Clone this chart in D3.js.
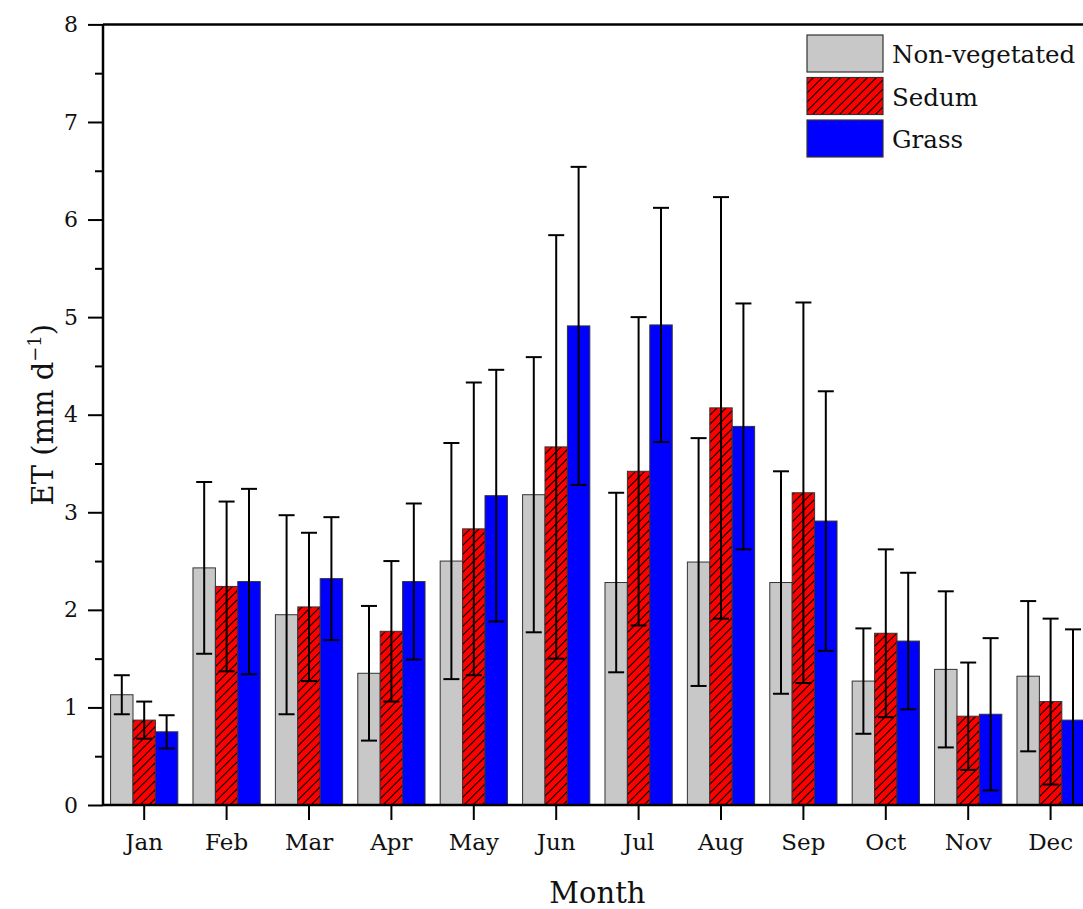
<!DOCTYPE html>
<html>
<head>
<meta charset="utf-8">
<script src="https://cdn.jsdelivr.net/npm/d3@7"></script>
<style>
  html, body { margin: 0; padding: 0; background: #fff; }
  svg { display: block; }
  text { font-family: "DejaVu Serif", "Liberation Serif", serif; fill: #111; }
</style>
</head>
<body>
<svg id="chart" width="1083" height="909"></svg>
<script>
// Monthly evapotranspiration (mean and standard deviation, mm per day)
const months = ["Jan", "Feb", "Mar", "Apr", "May", "Jun", "Jul", "Aug", "Sep", "Oct", "Nov", "Dec"];
const seriesNames = ["Non-vegetated", "Sedum", "Grass"];

const nonVegetated   = [1.13, 2.43, 1.95, 1.35, 2.50, 3.18, 2.28, 2.49, 2.28, 1.27, 1.39, 1.32];
const nonVegetatedSD = [0.20, 0.88, 1.02, 0.69, 1.21, 1.41, 0.92, 1.27, 1.14, 0.54, 0.80, 0.77];
const sedum          = [0.87, 2.24, 2.03, 1.78, 2.83, 3.67, 3.42, 4.07, 3.20, 1.76, 0.91, 1.06];
const sedumSD        = [0.19, 0.87, 0.76, 0.72, 1.50, 2.17, 1.58, 2.16, 1.95, 0.86, 0.55, 0.85];
const grass          = [0.75, 2.29, 2.32, 2.29, 3.17, 4.91, 4.92, 3.88, 2.91, 1.68, 0.93, 0.87];
const grassSD        = [0.17, 0.95, 0.63, 0.80, 1.29, 1.63, 1.20, 1.26, 1.33, 0.70, 0.78, 0.93];

const yTicks = [0, 1, 2, 3, 4, 5, 6, 7, 8];
const yMinorTicks = [0.5, 1.5, 2.5, 3.5, 4.5, 5.5, 6.5, 7.5];

const means = [nonVegetated, sedum, grass];
const sds = [nonVegetatedSD, sedumSD, grassSD];

const rows = months.flatMap((m, i) =>
  seriesNames.map((s, k) => ({ month: m, series: s, value: means[k][i], sd: sds[k][i] }))
);

// Layout
const plotLeft = 103, plotTop = 24.4, plotBottom = 805, step = 82.4;
const plotRight = plotLeft + months.length * step;

const svg = d3.select("#chart");

const y = d3.scaleLinear().domain([0, 8]).range([plotBottom, plotTop]);
const x = d3.scaleBand().domain(months).range([plotLeft, plotRight]).padding(0);
const groupHalf = step * 0.408;
const xs = d3.scaleBand().domain(seriesNames).range([-groupHalf, groupHalf]).padding(0);

const fills = { "Non-vegetated": "#c8c8c8", "Sedum": "url(#hatch)", "Grass": "#0000ff" };

// Hatch pattern for the Sedum bars: red with black diagonal lines
const hs = 9;
const defs = svg.append("defs");
const pat = defs.append("pattern")
  .attr("id", "hatch")
  .attr("patternUnits", "userSpaceOnUse")
  .attr("width", hs).attr("height", hs);
pat.append("rect").attr("width", hs).attr("height", hs).attr("fill", "#ff0000");
pat.append("path")
  .attr("d", `M-2,2 L2,-2 M0,${hs} L${hs},0 M${hs - 2},${hs + 2} L${hs + 2},${hs - 2}`)
  .attr("stroke", "#000").attr("stroke-width", 1.2);

const cx = d => x(d.month) + x.bandwidth() / 2 + xs(d.series);

// Bars
svg.append("g").selectAll("rect")
  .data(rows).join("rect")
  .attr("x", d => cx(d))
  .attr("y", d => y(d.value))
  .attr("width", xs.bandwidth())
  .attr("height", d => y(0) - y(d.value))
  .attr("fill", d => fills[d.series])
  .attr("stroke", "#333").attr("stroke-width", 1);

// Error bars
const capHalf = 8;
const eg = svg.append("g").attr("stroke", "#000").attr("stroke-width", 2);
rows.forEach(d => {
  const mx = cx(d) + xs.bandwidth() / 2;
  const hi = d.value + d.sd;
  const lo = Math.max(0, d.value - d.sd);
  eg.append("line").attr("x1", mx).attr("x2", mx).attr("y1", y(hi)).attr("y2", y(lo));
  eg.append("line").attr("x1", mx - capHalf).attr("x2", mx + capHalf).attr("y1", y(hi)).attr("y2", y(hi));
  if (d.value - d.sd > 0) {
    eg.append("line").attr("x1", mx - capHalf).attr("x2", mx + capHalf).attr("y1", y(lo)).attr("y2", y(lo));
  }
});

// Y axis with major and minor ticks
const yAxis = svg.append("g").attr("transform", `translate(${plotLeft},0)`)
  .call(d3.axisLeft(y).tickValues(yTicks).tickSize(15).tickPadding(10).tickFormat(d3.format("d")));
yAxis.select(".domain").remove();
yAxis.selectAll(".tick line").attr("stroke", "#000").attr("stroke-width", 2);
yAxis.selectAll(".tick text").style("font-size", "22px").attr("fill", "#111");
svg.append("g").attr("transform", `translate(${plotLeft},0)`)
  .call(d3.axisLeft(y).tickValues(yMinorTicks).tickSize(8).tickFormat(""))
  .call(g => g.select(".domain").remove())
  .selectAll(".tick line").attr("stroke", "#000").attr("stroke-width", 2);

// X axis
const xAxis = svg.append("g").attr("transform", `translate(0,${plotBottom})`)
  .call(d3.axisBottom(x).tickSize(15).tickPadding(14));
xAxis.select(".domain").remove();
xAxis.selectAll(".tick line").attr("stroke", "#000").attr("stroke-width", 2);
xAxis.selectAll(".tick text").style("font-size", "23px").attr("fill", "#111");

// Frame lines: left, bottom, top
const frame = svg.append("g").attr("stroke", "#000").attr("stroke-width", 2.5).attr("fill", "none");
frame.append("line").attr("x1", plotLeft).attr("x2", plotLeft).attr("y1", plotTop).attr("y2", plotBottom);
frame.append("line").attr("x1", plotLeft).attr("x2", plotRight).attr("y1", plotBottom).attr("y2", plotBottom);
frame.append("line").attr("x1", plotLeft).attr("x2", plotRight).attr("y1", plotTop).attr("y2", plotTop);

// Axis titles
svg.append("text")
  .attr("x", (plotLeft + plotRight) / 2).attr("y", 903)
  .attr("text-anchor", "middle")
  .style("font-size", "29px")
  .text("Month");

const yt = svg.append("text")
  .attr("transform", `translate(53,${(plotTop + plotBottom) / 2}) rotate(-90)`)
  .attr("text-anchor", "middle")
  .style("font-size", "29px");
yt.append("tspan").text("ET (mm d");
yt.append("tspan").attr("dy", -12).style("font-size", "18px").text("\u22121");
yt.append("tspan").attr("dy", 12).text(")");

// Legend
const legend = svg.append("g");
seriesNames.forEach((s, i) => {
  const ly = 35 + i * 42.5;
  legend.append("rect")
    .attr("x", 807).attr("y", ly).attr("width", 76).attr("height", 37)
    .attr("fill", fills[s]).attr("stroke", "#333").attr("stroke-width", 1.2);
  legend.append("text")
    .attr("x", 892).attr("y", ly + 28)
    .style("font-size", "24.5px")
    .text(s);
});
</script>
</body>
</html>
